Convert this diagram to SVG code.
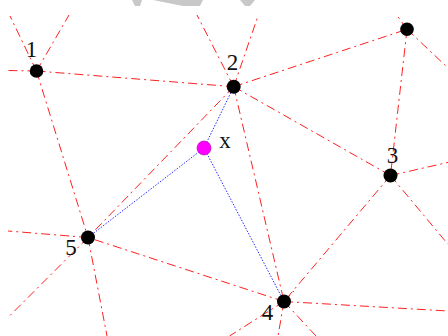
<svg xmlns="http://www.w3.org/2000/svg" width="448" height="336" viewBox="0 0 448 336">
<style>
.red{stroke:#ff2020;stroke-width:1;stroke-dasharray:9 4 2 4;fill:none}
.blue{stroke:#2a2aff;stroke-width:1;stroke-dasharray:1.5 1.5;fill:none}
.node{fill:#000}
.pt{fill:#ff00ff;stroke:#a000a0;stroke-width:0.6}
.lbl{font-family:"Liberation Serif",serif;font-size:23px;fill:#111;text-anchor:middle}
.deco{fill:#c8c8c8}
</style>
<g id="decoration">
<polygon class="deco" points="132,0 142,0 140,6 135,6"/>
<polygon class="deco" points="153,0 203,0 200,6 183,6"/>
<polygon class="deco" points="240,0 255,0 250,6 245,6"/>
</g>
<g id="connectors">
<line class="red" x1="36.5" y1="71" x2="233.7" y2="86.7"/>
<line class="red" x1="36.5" y1="71" x2="8" y2="70.5"/>
<line class="red" x1="36.5" y1="71" x2="10" y2="16"/>
<line class="red" x1="36.5" y1="71" x2="69" y2="15"/>
<line class="red" x1="36.5" y1="71" x2="88" y2="237.5"/>
<line class="red" x1="233.7" y1="86.7" x2="197" y2="15"/>
<line class="red" x1="233.7" y1="86.7" x2="258" y2="16"/>
<line class="red" x1="233.7" y1="86.7" x2="407" y2="29.3"/>
<line class="red" x1="233.7" y1="86.7" x2="390.5" y2="175.5"/>
<line class="red" x1="233.7" y1="86.7" x2="284" y2="301.5"/>
<line class="red" x1="233.7" y1="86.7" x2="88" y2="237.5"/>
<line class="red" x1="407" y1="29.3" x2="396" y2="14"/>
<line class="red" x1="407" y1="29.3" x2="448" y2="68"/>
<line class="red" x1="407" y1="29.3" x2="390.5" y2="175.5"/>
<line class="red" x1="390.5" y1="175.5" x2="448" y2="162.4"/>
<line class="red" x1="390.5" y1="175.5" x2="448" y2="244.3"/>
<line class="red" x1="390.5" y1="175.5" x2="284" y2="301.5"/>
<line class="red" x1="284" y1="301.5" x2="448" y2="311"/>
<line class="red" x1="284" y1="301.5" x2="316" y2="336"/>
<line class="red" x1="284" y1="301.5" x2="278" y2="336"/>
<line class="red" x1="284" y1="301.5" x2="229.5" y2="336"/>
<line class="red" x1="284" y1="301.5" x2="294" y2="291"/>
<line class="red" x1="284" y1="301.5" x2="88" y2="237.5"/>
<line class="red" x1="88" y1="237.5" x2="8" y2="231"/>
<line class="red" x1="88" y1="237.5" x2="10" y2="315.5"/>
<line class="red" x1="88" y1="237.5" x2="107" y2="336"/>
<line class="blue" x1="204" y1="148" x2="233.7" y2="86.7"/>
<line class="blue" x1="204" y1="148" x2="88" y2="237.5"/>
<line class="blue" x1="204" y1="148" x2="284" y2="301.5"/>
</g>
<g id="node1"><circle class="node" cx="36.5" cy="71" r="6.8"/><text class="lbl" x="31.5" y="57">1</text></g>
<g id="node2"><circle class="node" cx="233.7" cy="86.7" r="7"/><text class="lbl" x="232.5" y="70">2</text></g>
<g id="node3"><circle class="node" cx="390.5" cy="175.5" r="7"/><text class="lbl" x="392.5" y="163">3</text></g>
<g id="node4"><circle class="node" cx="284" cy="301.5" r="7"/><text class="lbl" x="267.5" y="320">4</text></g>
<g id="node5"><circle class="node" cx="88" cy="237.5" r="7"/><text class="lbl" x="71" y="255">5</text></g>
<g id="node6"><circle class="node" cx="407" cy="29.3" r="6.8"/></g>
<g id="nodex"><circle class="pt" cx="204" cy="148" r="7"/><text class="lbl" x="225" y="148">x</text></g>
</svg>
